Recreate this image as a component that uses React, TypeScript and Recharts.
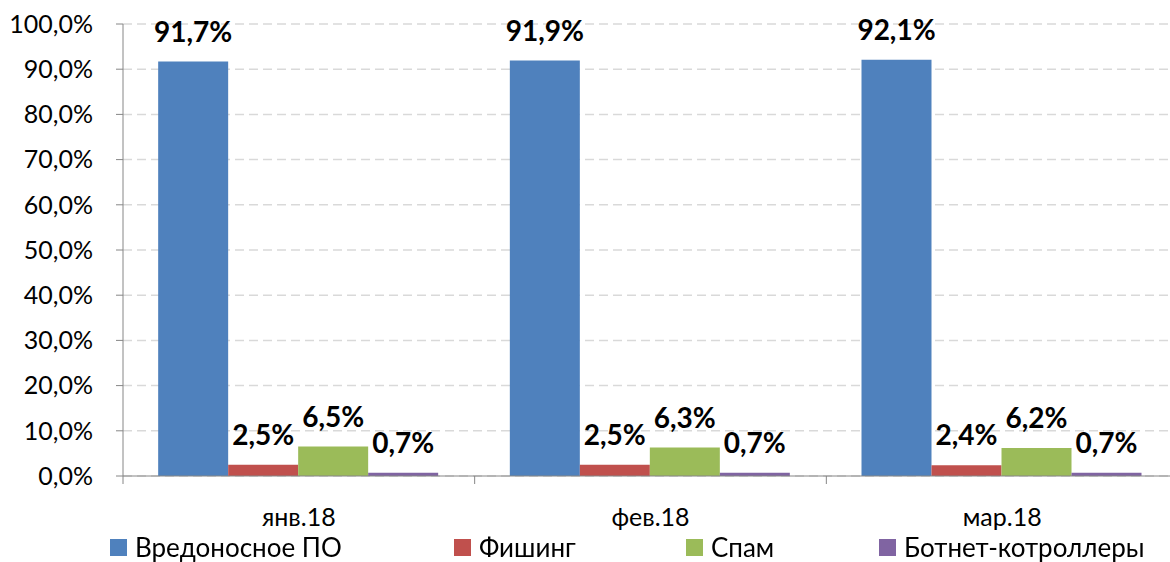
import { BarChart, Bar, XAxis, YAxis, CartesianGrid, Legend, LabelList } from 'recharts'

const months = ['янв.18', 'фев.18', 'мар.18']
const malware = [91.7, 91.9, 92.1]
const phishing = [2.5, 2.5, 2.4]
const spam = [6.5, 6.3, 6.2]
const botnet = [0.7, 0.7, 0.7]
const yTicks = [0, 10, 20, 30, 40, 50, 60, 70, 80, 90, 100]

const SERIES = [
  { key: 'malware', name: 'Вредоносное ПО', color: '#4F81BD', w: 344 },
  { key: 'phishing', name: 'Фишинг', color: '#C0504D', w: 232 },
  { key: 'spam', name: 'Спам', color: '#9BBB59', w: 193 },
  { key: 'botnet', name: 'Ботнет-котроллеры', color: '#8064A2', w: 290 },
]

const data = months.map((m, i) => ({
  month: m,
  malware: malware[i],
  phishing: phishing[i],
  spam: spam[i],
  botnet: botnet[i],
}))

const FONT = 'Lato, "Noto Sans", sans-serif'
const AXIS = '#868686'
const TICK_GAP = 32
const pct = (v: number) => v.toFixed(1).replace('.', ',') + '%'

// category label plus the boundary tick marks Excel draws between categories
function MonthTick(props: any) {
  const { x, y, payload, index, visibleTicksCount, width } = props
  const band = width / visibleTicksCount
  const axisY = y - TICK_GAP
  const last = index === visibleTicksCount - 1
  return (
    <g>
      <line x1={x - band / 2} x2={x - band / 2} y1={axisY} y2={axisY + 8} stroke={AXIS} />
      {last && <line x1={x + band / 2} x2={x + band / 2} y1={axisY} y2={axisY + 8} stroke={AXIS} />}
      <text x={x} y={y} dy="0.71em" textAnchor="middle" fill="#000" fontSize={25} fontFamily={FONT}>
        {payload.value}
      </text>
    </g>
  )
}

function LegendRow() {
  return (
    <div style={{ display: 'flex', paddingLeft: 110, fontFamily: FONT, fontSize: 26, lineHeight: '22px', color: '#000' }}>
      {SERIES.map((s) => (
        <div key={s.key} style={{ width: s.w, display: 'flex', alignItems: 'center' }}>
          <span style={{ width: 17, height: 17, background: s.color, marginRight: 8, display: 'inline-block' }} />
          <span>{s.name}</span>
        </div>
      ))}
    </div>
  )
}

export default function App() {
  return (
    <div style={{ position: 'fixed', left: 0, top: 0, width: 1170, height: 562, background: '#fff' }}>
      <BarChart
        width={1170}
        height={562}
        data={data}
        margin={{ top: 24, right: -8, bottom: 4, left: 0 }}
        barCategoryGap="10%"
        barGap={0}
        style={{ fontFamily: FONT }}
      >
        <CartesianGrid vertical={false} stroke="#d9d9d9" strokeDasharray="9 5" strokeWidth={1.5} />
        <XAxis
          dataKey="month"
          height={60}
          stroke={AXIS}
          tickLine={false}
          tickSize={0}
          tickMargin={TICK_GAP}
          tick={<MonthTick />}
        />
        <YAxis
          domain={[0, 100]}
          ticks={yTicks}
          width={123}
          tickFormatter={pct}
          tickSize={7}
          tickMargin={23}
          stroke={AXIS}
          tick={{ fill: '#000', fontSize: 25 }}
          interval={0}
        />
        <Legend verticalAlign="bottom" content={() => <LegendRow />} />
        {SERIES.map((s) => (
          <Bar key={s.key} dataKey={s.key} name={s.name} fill={s.color} isAnimationActive={false}>
            <LabelList
              dataKey={s.key}
              position="top"
              offset={20}
              formatter={(v: any) => pct(Number(v))}
              style={{ fill: '#000', fontSize: 28, fontWeight: 700, fontFamily: FONT }}
            />
          </Bar>
        ))}
      </BarChart>
    </div>
  )
}
